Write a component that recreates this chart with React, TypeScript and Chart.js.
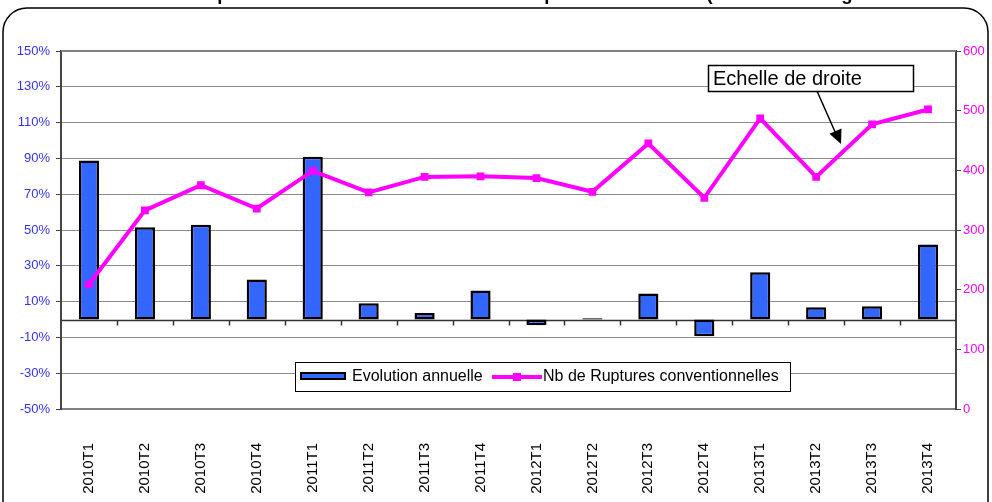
import React, { useEffect, useRef } from "react";
import { Chart, registerables } from "chart.js";

Chart.register(...registerables);

const FONT = '"Liberation Sans", Arial, sans-serif';

const TITLE =
  "Nombre de ruptures conventionnelles et leurs comparaison annuelle (base un an en glissement";

const categories = [
  "2010T1", "2010T2", "2010T3", "2010T4",
  "2011T1", "2011T2", "2011T3", "2011T4",
  "2012T1", "2012T2", "2012T3", "2012T4",
  "2013T1", "2013T2", "2013T3", "2013T4",
];

// Evolution annuelle (%), left axis
const evolution = [88.8, 51.6, 52.9, 22.3, 90.9, 9.1, 3.7, 16.2, -3.2, 0.7, 14.5, -9.3, 26.4, 6.9, 7.4, 41.9];

// Nb de Ruptures conventionnelles, right axis
const ruptures = [209, 333, 375, 336, 399, 363, 389, 390, 387, 364, 445, 354, 487, 389, 477, 502];

const leftMin = -50;
const leftMax = 150;
const leftStep = 20;
const rightMin = 0;
const rightMax = 600;
const rightStep = 100;

const barLabel = "Evolution annuelle";
const lineLabel = "Nb de Ruptures conventionnelles";
const noteLabel = "Echelle de droite";

const BLUE = "#3366FF";
const MAGENTA = "#FF00FF";

function roundRectPath(ctx: CanvasRenderingContext2D, x: number, y: number, w: number, h: number, r: number) {
  ctx.beginPath();
  ctx.moveTo(x + r, y);
  ctx.lineTo(x + w - r, y);
  ctx.arcTo(x + w, y, x + w, y + r, r);
  ctx.lineTo(x + w, y + h - r);
  ctx.arcTo(x + w, y + h, x + w - r, y + h, r);
  ctx.lineTo(x + r, y + h);
  ctx.arcTo(x, y + h, x, y + h - r, r);
  ctx.lineTo(x, y + r);
  ctx.arcTo(x, y, x + r, y, r);
  ctx.closePath();
}

const decor = {
  id: "decor",
  beforeDraw(chart: any) {
    const ctx: CanvasRenderingContext2D = chart.ctx;
    ctx.save();
    ctx.setTransform(1, 0, 0, 1, 0, 0);
    ctx.fillStyle = "#fff";
    ctx.fillRect(0, 0, chart.width, chart.height);
    ctx.strokeStyle = "#000";
    ctx.lineWidth = 1.5;
    roundRectPath(ctx, 3, 8, 985, 540, 24);
    ctx.stroke();
    ctx.fillStyle = "#000";
    ctx.font = `bold 18.5px ${FONT}`;
    ctx.textAlign = "left";
    ctx.textBaseline = "alphabetic";
    ctx.fillText(TITLE, 97, 0);
    ctx.restore();
  },
  beforeDatasetsDraw(chart: any) {
    const ctx: CanvasRenderingContext2D = chart.ctx;
    const xs = chart.scales.x;
    const y0 = Math.round(chart.scales.y.getPixelForValue(0)) + 0.5;
    const { left, right, top } = chart.chartArea;
    ctx.save();
    ctx.strokeStyle = "#333";
    ctx.lineWidth = 1.5;
    ctx.beginPath();
    ctx.moveTo(left, y0);
    ctx.lineTo(right, y0);
    for (let i = 1; i < categories.length; i++) {
      const x = Math.round((xs.getPixelForValue(i - 1) + xs.getPixelForValue(i)) / 2) + 0.5;
      ctx.moveTo(x, y0);
      ctx.lineTo(x, y0 + 5);
    }
    ctx.stroke();
    // top frame of the plot area
    ctx.strokeStyle = "#808080";
    ctx.lineWidth = 2;
    ctx.beginPath();
    ctx.moveTo(left, top);
    ctx.lineTo(right, top);
    ctx.stroke();
    ctx.restore();
  },
  afterDraw(chart: any) {
    const ctx: CanvasRenderingContext2D = chart.ctx;
    ctx.save();
    // legend
    ctx.fillStyle = "#fff";
    ctx.fillRect(295.5, 362.5, 495, 29);
    ctx.strokeStyle = "#000";
    ctx.lineWidth = 1;
    ctx.strokeRect(295.5, 362.5, 495, 29);
    ctx.fillStyle = BLUE;
    ctx.fillRect(301, 373, 44, 6);
    ctx.lineWidth = 2;
    ctx.strokeRect(301, 373, 44, 6);
    ctx.fillStyle = "#000";
    ctx.font = `16px ${FONT}`;
    ctx.textBaseline = "middle";
    ctx.textAlign = "left";
    ctx.fillText(barLabel, 352, 377);
    ctx.strokeStyle = MAGENTA;
    ctx.lineWidth = 4;
    ctx.beginPath();
    ctx.moveTo(492, 377);
    ctx.lineTo(542, 377);
    ctx.stroke();
    ctx.fillStyle = MAGENTA;
    ctx.fillRect(513, 373, 8, 8);
    ctx.fillStyle = "#000";
    ctx.fillText(lineLabel, 543, 377);

    // note box
    ctx.fillStyle = "#fff";
    ctx.fillRect(708.5, 65.5, 205, 26);
    ctx.strokeStyle = "#000";
    ctx.lineWidth = 1.5;
    ctx.strokeRect(708.5, 65.5, 205, 26);
    ctx.fillStyle = "#000";
    ctx.font = `20px ${FONT}`;
    ctx.fillText(noteLabel, 713, 79);
    // arrow
    ctx.lineWidth = 1.5;
    ctx.beginPath();
    ctx.moveTo(817, 91);
    ctx.lineTo(836, 134);
    ctx.stroke();
    ctx.beginPath();
    ctx.moveTo(841, 144);
    ctx.lineTo(829.5, 133.8);
    ctx.lineTo(841.5, 128.6);
    ctx.closePath();
    ctx.fill();
    ctx.restore();
  },
};

export default function App() {
  const ref = useRef<HTMLCanvasElement | null>(null);

  useEffect(() => {
    if (!ref.current) return;
    Chart.defaults.font.family = FONT;
    const chart = new Chart(ref.current, {
      type: "bar",
      data: {
        labels: categories,
        datasets: [
          {
            type: "line",
            label: lineLabel,
            data: ruptures,
            yAxisID: "y1",
            borderColor: MAGENTA,
            backgroundColor: MAGENTA,
            borderWidth: 4,
            pointStyle: "rect",
            pointRadius: 5.5,
            pointBorderWidth: 0,
            pointBackgroundColor: MAGENTA,
            tension: 0,
            order: 0,
          } as any,
          {
            type: "bar",
            label: barLabel,
            data: evolution,
            yAxisID: "y",
            backgroundColor: BLUE,
            borderColor: "#000",
            borderWidth: 2.5,
            borderSkipped: false,
            barPercentage: 0.36,
            categoryPercentage: 1,
            order: 1,
          } as any,
        ],
      },
      options: {
        responsive: false,
        animation: false,
        devicePixelRatio: 1,
        events: [],
        layout: { padding: { top: 51, left: 0, right: 0, bottom: 0 } },
        plugins: {
          legend: { display: false },
          tooltip: { enabled: false },
          title: { display: false },
        },
        scales: {
          x: {
            position: "bottom",
            offset: true,
            grid: { display: false, drawTicks: false },
            border: { display: true, color: "#808080", width: 2 },
            ticks: {
              minRotation: 90,
              maxRotation: 90,
              autoSkip: false,
              color: "#000",
              padding: 34,
              font: { size: 15, family: FONT },
            },
            afterFit: (s: any) => {
              s.height = 93;
            },
          },
          y: {
            position: "left",
            min: leftMin,
            max: leftMax,
            ticks: {
              stepSize: leftStep,
              color: "#3333FF",
              padding: 6,
              font: { size: 13, family: FONT },
              callback: (v: any) => `${v}%`,
            },
            grid: { color: "#8c8c8c", lineWidth: 1, tickLength: 5, tickColor: "#444" },
            border: { display: true, color: "#444", width: 2 },
            afterFit: (s: any) => {
              s.width = 61;
            },
          },
          y1: {
            position: "right",
            min: rightMin,
            max: rightMax,
            ticks: {
              stepSize: rightStep,
              color: MAGENTA,
              padding: 2,
              font: { size: 13, family: FONT },
            },
            grid: { drawOnChartArea: false, tickLength: 5, tickColor: "#444" },
            border: { display: true, color: "#444", width: 2 },
            afterFit: (s: any) => {
              s.width = 36;
            },
          },
        },
      },
      plugins: [decor],
    });
    return () => chart.destroy();
  }, []);

  return (
    <div style={{ position: "absolute", left: 0, top: 0, width: 992, height: 502, background: "#fff" }}>
      <canvas ref={ref} width={992} height={502} style={{ display: "block", width: 992, height: 502 }} />
    </div>
  );
}
